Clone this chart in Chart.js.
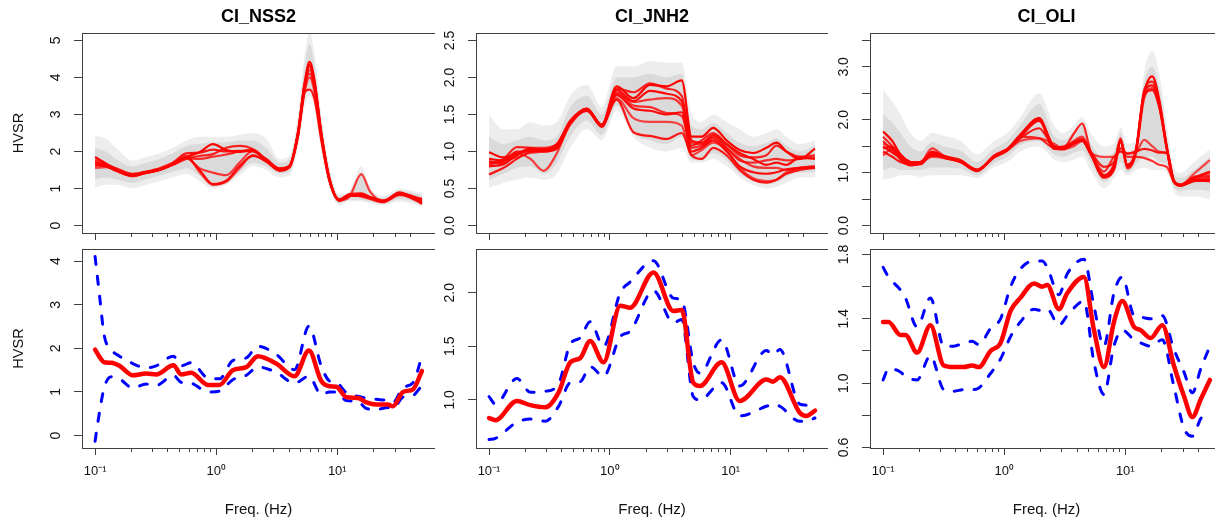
<!DOCTYPE html>
<html>
<head>
<meta charset="utf-8">
<title>HVSR</title>
<script src="https://cdn.jsdelivr.net/npm/chart.js@4.4.1/dist/chart.umd.min.js"></script>
<style>
  html, body { margin: 0; padding: 0; background: #fff; width: 1215px; height: 522px; overflow: hidden; position: relative; }
  canvas { position: absolute; }
</style>
</head>
<body>
<canvas id="nss2Top" width="435" height="245" style="left:0;top:0"></canvas>
<canvas id="jnh2Top" width="388" height="245" style="left:440px;top:0"></canvas>
<canvas id="oliTop" width="389" height="245" style="left:834px;top:0"></canvas>
<canvas id="nss2Bot" width="435" height="282" style="left:0;top:240px"></canvas>
<canvas id="jnh2Bot" width="388" height="282" style="left:440px;top:240px"></canvas>
<canvas id="oliBot" width="389" height="282" style="left:834px;top:240px"></canvas>
<script>
// x axis (frequency, Hz)
const X_TICKS = [0.1, 0.2, 0.3, 0.4, 0.5, 0.6, 0.7, 0.8, 0.9, 1, 2, 3, 4, 5, 6, 7, 8, 9, 10, 20, 30, 40];
const X_DECADES = [0.1, 1, 10];
const X_DECADE_LABELS = ['10\u207B\u00B9', '10\u2070', '10\u00B9'];

// ---- CI_NSS2, individual windows ----
const F_NSS2_TOP = [0.1, 0.123, 0.149, 0.205, 0.264, 0.34, 0.438, 0.565, 0.728, 0.939, 1.21, 1.56, 2.01, 2.59, 3.34, 4.04, 4.73, 5.37, 5.91, 6.5, 7.38, 8.65, 10.4, 12.6, 15.8, 18.5, 23.8, 32.7, 39.6, 50];
const NSS2_L1 = [1.85, 1.68, 1.52, 1.36, 1.42, 1.5, 1.66, 1.85, 1.98, 2.2, 2.04, 1.99, 2.04, 1.78, 1.52, 1.6, 2.5, 3.85, 4.42, 3.9, 2.5, 1.25, 0.68, 0.8, 0.85, 0.77, 0.65, 0.9, 0.8, 0.72];
const NSS2_L2 = [1.78, 1.66, 1.5, 1.34, 1.44, 1.52, 1.64, 1.8, 1.88, 1.93, 2.1, 2.15, 2.06, 1.75, 1.5, 1.62, 2.45, 3.7, 4.3, 3.8, 2.45, 1.22, 0.7, 0.82, 0.82, 0.75, 0.65, 0.88, 0.82, 0.7];
const NSS2_L3 = [1.72, 1.62, 1.48, 1.33, 1.43, 1.5, 1.65, 1.82, 1.55, 1.43, 1.36, 1.7, 2.02, 1.76, 1.52, 1.58, 2.4, 3.6, 4.0, 3.6, 2.4, 1.2, 0.68, 0.78, 1.39, 0.94, 0.66, 0.85, 0.78, 0.65];
const NSS2_L4 = [1.62, 1.6, 1.48, 1.35, 1.42, 1.5, 1.65, 1.85, 1.5, 1.12, 1.21, 1.61, 1.88, 1.74, 1.48, 1.6, 2.5, 3.8, 4.35, 3.85, 2.5, 1.25, 0.67, 0.8, 0.8, 0.74, 0.64, 0.85, 0.76, 0.6];
const NSS2_L5 = [1.55, 1.58, 1.5, 1.38, 1.45, 1.52, 1.66, 1.88, 1.45, 1.1, 1.18, 1.55, 1.9, 1.72, 1.5, 1.58, 2.45, 3.7, 4.2, 3.75, 2.45, 1.2, 0.7, 0.84, 0.78, 0.72, 0.63, 0.82, 0.8, 0.58];
const NSS2_L6 = [1.7, 1.64, 1.55, 1.4, 1.46, 1.55, 1.7, 1.95, 1.97, 2.05, 2.0, 2.02, 2.0, 1.8, 1.55, 1.62, 2.4, 3.6, 3.67, 3.4, 2.3, 1.2, 0.7, 0.85, 0.87, 0.78, 0.68, 0.86, 0.82, 0.68];
const NSS2_L7 = [1.65, 1.62, 1.5, 1.36, 1.44, 1.5, 1.67, 1.82, 1.8, 1.86, 1.92, 2.0, 2.05, 1.76, 1.5, 1.6, 2.5, 3.8, 4.1, 3.7, 2.4, 1.22, 0.68, 0.8, 0.8, 0.75, 0.66, 0.84, 0.8, 0.62];
const NSS2_OUT_HI = [2.42, 2.35, 2.1, 1.75, 1.85, 1.95, 2.1, 2.3, 2.4, 2.4, 2.4, 2.45, 2.5, 2.35, 1.8, 1.9, 3.0, 4.6, 5.25, 4.6, 3.0, 1.6, 0.85, 0.95, 1.6, 1.05, 0.8, 1.0, 0.95, 0.9];
const NSS2_OUT_LO = [1.03, 1.1, 1.1, 1.0, 1.1, 1.2, 1.3, 1.4, 1.2, 1.0, 1.1, 1.35, 1.6, 1.5, 1.3, 1.35, 2.1, 3.2, 3.5, 3.2, 2.0, 1.0, 0.55, 0.65, 0.65, 0.6, 0.55, 0.65, 0.6, 0.5];
const NSS2_IN_HI = [2.1, 2.0, 1.8, 1.6, 1.7, 1.8, 1.95, 2.15, 2.2, 2.25, 2.25, 2.3, 2.3, 2.1, 1.7, 1.8, 2.8, 4.3, 4.9, 4.3, 2.8, 1.45, 0.8, 0.9, 1.4, 0.95, 0.75, 0.95, 0.9, 0.82];
const NSS2_IN_LO = [1.25, 1.3, 1.25, 1.15, 1.25, 1.35, 1.45, 1.55, 1.35, 1.05, 1.15, 1.45, 1.7, 1.6, 1.4, 1.45, 2.25, 3.4, 3.7, 3.4, 2.15, 1.05, 0.6, 0.7, 0.7, 0.65, 0.58, 0.72, 0.68, 0.55];

// ---- CI_JNH2, individual windows ----
const F_JNH2_TOP = [0.1, 0.132, 0.17, 0.22, 0.283, 0.365, 0.47, 0.646, 0.859, 1.14, 1.57, 2.15, 2.96, 3.94, 4.76, 5.76, 7.19, 9.27, 11.9, 15.4, 19.8, 24.0, 29.0, 37.4, 50];
const JNH2_L1 = [0.99, 0.92, 0.97, 1.03, 1.03, 1.1, 1.4, 1.57, 1.36, 1.88, 1.72, 1.9, 1.88, 1.96, 1.2, 1.2, 1.32, 1.15, 1.02, 0.98, 1.05, 1.12, 1.0, 0.9, 1.04];
const JNH2_L2 = [0.85, 0.9, 1.06, 1.05, 1.0, 1.08, 1.4, 1.58, 1.35, 1.85, 1.8, 1.92, 1.85, 1.75, 1.08, 1.15, 1.25, 1.1, 0.95, 0.92, 0.95, 1.08, 1.0, 0.93, 0.95];
const JNH2_L3 = [0.87, 0.84, 0.98, 0.9, 0.74, 0.98, 1.38, 1.57, 1.33, 1.78, 1.67, 1.7, 1.72, 1.62, 1.12, 1.1, 1.2, 1.05, 0.9, 0.8, 0.78, 0.78, 0.75, 0.78, 0.8];
const JNH2_L4 = [0.8, 0.83, 0.95, 1.02, 1.02, 1.06, 1.38, 1.55, 1.34, 1.76, 1.58, 1.55, 1.5, 1.53, 1.0, 1.05, 1.15, 1.0, 0.8, 0.72, 0.7, 0.72, 0.76, 0.78, 0.78];
const JNH2_L5 = [0.82, 0.88, 0.92, 0.98, 1.0, 1.05, 1.36, 1.56, 1.35, 1.72, 1.45, 1.4, 1.4, 1.35, 0.95, 1.02, 1.12, 1.02, 0.78, 0.64, 0.6, 0.62, 0.72, 0.78, 0.8];
const JNH2_L6 = [0.69, 0.78, 0.9, 1.0, 1.02, 1.08, 1.4, 1.58, 1.36, 1.7, 1.26, 1.21, 1.17, 1.25, 0.95, 0.9, 1.05, 0.95, 0.75, 0.62, 0.58, 0.62, 0.7, 0.75, 0.78];
const JNH2_L7 = [0.84, 0.86, 0.95, 1.05, 1.05, 1.1, 1.42, 1.56, 1.36, 1.8, 1.62, 1.6, 1.52, 1.48, 1.05, 1.08, 1.18, 1.05, 0.88, 0.85, 0.88, 0.9, 0.88, 0.9, 0.92];
const JNH2_L8 = [0.9, 0.88, 1.0, 1.0, 1.0, 1.04, 1.4, 1.57, 1.36, 1.83, 1.68, 1.82, 1.78, 1.68, 1.15, 1.12, 1.22, 1.1, 0.98, 0.9, 0.82, 0.85, 0.82, 0.92, 0.9];
const JNH2_OUT_HI = [1.49, 1.3, 1.3, 1.4, 1.35, 1.4, 1.75, 1.9, 1.6, 2.15, 2.15, 2.22, 2.2, 2.2, 1.5, 1.4, 1.5, 1.4, 1.3, 1.2, 1.25, 1.3, 1.2, 1.1, 1.15];
const JNH2_OUT_LO = [0.51, 0.58, 0.62, 0.65, 0.62, 0.7, 1.05, 1.3, 1.15, 1.55, 1.2, 1.05, 1.0, 1.05, 0.85, 0.85, 0.9, 0.8, 0.65, 0.55, 0.5, 0.52, 0.58, 0.65, 0.65];
const JNH2_IN_HI = [1.2, 1.1, 1.15, 1.2, 1.15, 1.2, 1.6, 1.75, 1.5, 2.0, 2.0, 2.05, 2.0, 2.05, 1.35, 1.3, 1.38, 1.25, 1.12, 1.07, 1.12, 1.18, 1.08, 1.0, 1.08];
const JNH2_IN_LO = [0.62, 0.7, 0.78, 0.8, 0.7, 0.85, 1.2, 1.42, 1.22, 1.62, 1.25, 1.15, 1.1, 1.2, 0.9, 0.88, 0.98, 0.88, 0.7, 0.6, 0.56, 0.58, 0.66, 0.72, 0.72];

// ---- CI_OLI, individual windows ----
const F_OLI_TOP = [0.1, 0.119, 0.139, 0.168, 0.204, 0.254, 0.317, 0.436, 0.598, 0.822, 1.06, 1.36, 1.94, 2.57, 3.11, 3.76, 4.41, 5.17, 6.66, 8.06, 9.15, 10.4, 12.2, 14.3, 16.7, 19.0, 22.2, 25.2, 28.7, 36.9, 50];
const OLI_L1 = [1.78, 1.6, 1.35, 1.2, 1.17, 1.38, 1.3, 1.22, 1.05, 1.3, 1.43, 1.72, 2.03, 1.5, 1.46, 1.55, 1.62, 1.36, 0.95, 1.1, 1.6, 1.15, 1.4, 2.5, 2.82, 2.4, 1.43, 0.83, 0.76, 0.85, 0.88];
const OLI_L2 = [1.68, 1.5, 1.3, 1.18, 1.2, 1.33, 1.3, 1.24, 1.05, 1.28, 1.42, 1.7, 2.0, 1.48, 1.48, 1.74, 1.93, 1.4, 0.92, 1.12, 1.65, 1.1, 1.38, 2.55, 2.72, 2.35, 1.45, 0.85, 0.77, 0.88, 0.92];
const OLI_L3 = [1.55, 1.46, 1.25, 1.14, 1.18, 1.46, 1.32, 1.22, 1.04, 1.3, 1.44, 1.7, 2.02, 1.45, 1.46, 1.6, 1.68, 1.38, 0.9, 1.08, 1.62, 1.08, 1.35, 2.4, 2.6, 2.3, 1.4, 0.82, 0.75, 0.9, 1.0];
const OLI_L4 = [1.46, 1.49, 1.3, 1.15, 1.16, 1.35, 1.28, 1.2, 1.03, 1.32, 1.45, 1.68, 1.98, 1.5, 1.45, 1.55, 1.6, 1.35, 0.95, 1.15, 1.6, 1.15, 1.4, 2.45, 2.56, 2.25, 1.42, 0.84, 0.76, 0.84, 0.86];
const OLI_L5 = [1.33, 1.45, 1.25, 1.14, 1.18, 1.3, 1.28, 1.2, 1.04, 1.3, 1.42, 1.6, 1.65, 1.55, 1.45, 1.5, 1.6, 1.38, 1.3, 1.3, 1.4, 1.36, 1.38, 1.62, 1.5, 1.4, 1.36, 0.85, 0.77, 0.98, 1.24];
const OLI_L6 = [1.4, 1.3, 1.2, 1.16, 1.2, 1.32, 1.3, 1.22, 1.05, 1.3, 1.44, 1.65, 1.84, 1.5, 1.48, 1.55, 1.62, 1.4, 1.11, 1.2, 1.46, 1.36, 1.4, 1.45, 1.42, 1.38, 1.38, 0.84, 0.76, 0.9, 1.02];
const OLI_L7 = [1.6, 1.42, 1.28, 1.18, 1.2, 1.36, 1.3, 1.21, 1.05, 1.3, 1.43, 1.68, 1.65, 1.48, 1.5, 1.58, 1.64, 1.38, 1.02, 1.3, 1.4, 1.3, 1.3, 1.28, 1.22, 1.15, 1.1, 0.83, 0.78, 0.92, 0.95];
const OLI_L8 = [1.5, 1.38, 1.28, 1.2, 1.2, 1.4, 1.32, 1.22, 1.06, 1.3, 1.42, 1.7, 2.0, 1.46, 1.44, 1.56, 1.62, 1.37, 0.92, 1.05, 1.58, 1.12, 1.42, 2.5, 2.65, 2.3, 1.4, 0.83, 0.76, 0.85, 0.84];
const OLI_OUT_HI = [2.56, 2.35, 2.1, 1.75, 1.6, 1.75, 1.7, 1.6, 1.35, 1.6, 1.75, 2.05, 2.5, 1.9, 1.75, 1.9, 2.05, 1.75, 1.5, 1.55, 1.85, 1.55, 1.6, 2.9, 3.3, 2.9, 1.85, 1.1, 1.0, 1.2, 1.45];
const OLI_OUT_LO = [0.86, 0.9, 0.95, 0.95, 0.92, 0.95, 0.95, 0.95, 0.9, 1.1, 1.2, 1.4, 1.5, 1.25, 1.2, 1.25, 1.3, 1.05, 0.7, 0.9, 1.05, 0.95, 1.05, 1.1, 1.05, 1.05, 1.0, 0.65, 0.55, 0.55, 0.5];
const OLI_IN_HI = [2.1, 1.95, 1.75, 1.5, 1.4, 1.58, 1.5, 1.42, 1.2, 1.45, 1.6, 1.9, 2.3, 1.7, 1.62, 1.75, 1.9, 1.55, 1.3, 1.4, 1.75, 1.4, 1.5, 2.7, 3.0, 2.65, 1.65, 0.98, 0.9, 1.05, 1.3];
const OLI_IN_LO = [1.05, 1.1, 1.05, 1.05, 1.05, 1.1, 1.1, 1.08, 0.95, 1.18, 1.3, 1.52, 1.6, 1.35, 1.3, 1.38, 1.42, 1.2, 0.82, 1.0, 1.2, 1.0, 1.15, 1.3, 1.3, 1.2, 1.15, 0.72, 0.66, 0.68, 0.65];

// ---- mean curves and +/- one standard deviation ----
const F_NSS2_BOT = [0.1, 0.109, 0.119, 0.136, 0.159, 0.205, 0.264, 0.319, 0.444, 0.514, 0.621, 0.853, 1.065, 1.37, 1.77, 2.21, 3.13, 4.44, 5.83, 7.38, 8.65, 9.81, 11.9, 14.8, 17.4, 21.0, 26.2, 28.8, 34.9, 42.2, 50];
const NSS2_MEAN = [1.97, 1.8, 1.68, 1.67, 1.6, 1.38, 1.42, 1.4, 1.61, 1.4, 1.44, 1.16, 1.16, 1.5, 1.57, 1.82, 1.65, 1.36, 1.95, 1.25, 1.13, 1.12, 0.88, 0.86, 0.76, 0.71, 0.71, 0.67, 1.0, 1.06, 1.48];
const NSS2_UPPER = [4.11, 3.2, 2.3, 1.97, 1.82, 1.65, 1.55, 1.6, 1.82, 1.6, 1.67, 1.32, 1.3, 1.72, 1.78, 2.05, 1.86, 1.51, 2.51, 1.59, 1.25, 1.22, 0.98, 0.9, 0.86, 0.83, 0.8, 0.75, 1.1, 1.21, 1.82];
const NSS2_LOWER = [-0.13, 0.55, 1.1, 1.35, 1.3, 1.09, 1.18, 1.15, 1.38, 1.22, 1.2, 1.0, 1.02, 1.28, 1.38, 1.57, 1.45, 1.2, 1.36, 0.94, 1.0, 1.0, 0.8, 0.78, 0.62, 0.6, 0.64, 0.62, 0.88, 0.92, 1.15];

const F_JNH2_BOT = [0.1, 0.113, 0.17, 0.22, 0.292, 0.377, 0.47, 0.569, 0.688, 0.887, 1.22, 1.47, 2.3, 3.36, 3.94, 4.91, 5.58, 8.43, 11.9, 19.8, 22.5, 25.6, 37.4, 42.5, 50];
const JNH2_MEAN = [0.83, 0.81, 0.99, 0.95, 0.93, 1.07, 1.35, 1.39, 1.55, 1.35, 1.88, 1.86, 2.19, 1.83, 1.84, 1.16, 1.13, 1.35, 0.99, 1.19, 1.17, 1.21, 0.88, 0.85, 0.9];
const JNH2_UPPER = [1.03, 0.96, 1.2, 1.07, 1.08, 1.15, 1.52, 1.58, 1.73, 1.5, 2.0, 2.1, 2.3, 1.95, 1.93, 1.35, 1.25, 1.56, 1.13, 1.46, 1.42, 1.47, 0.96, 0.95, 0.92];
const JNH2_LOWER = [0.63, 0.64, 0.79, 0.82, 0.8, 0.94, 1.16, 1.17, 1.31, 1.22, 1.59, 1.64, 2.02, 1.72, 1.75, 1.03, 1.0, 1.16, 0.85, 0.94, 0.96, 0.94, 0.8, 0.8, 0.83];

const F_OLI_BOT = [0.1, 0.111, 0.139, 0.153, 0.191, 0.246, 0.317, 0.384, 0.464, 0.544, 0.618, 0.771, 0.933, 1.13, 1.36, 1.76, 2.06, 2.27, 2.83, 3.32, 4.55, 5.51, 6.66, 8.06, 9.45, 11.8, 13.4, 16.2, 20.2, 25.2, 30.5, 35.8, 42.0, 50];
const OLI_MEAN = [1.38, 1.38, 1.3, 1.3, 1.19, 1.36, 1.11, 1.1, 1.1, 1.11, 1.1, 1.2, 1.25, 1.45, 1.53, 1.62, 1.6, 1.61, 1.46, 1.56, 1.66, 1.33, 1.1, 1.38, 1.51, 1.35, 1.33, 1.28, 1.36, 1.11, 0.92, 0.79, 0.9, 1.02];
const OLI_UPPER = [1.72, 1.66, 1.58, 1.53, 1.35, 1.53, 1.23, 1.23, 1.25, 1.26, 1.24, 1.34, 1.4, 1.6, 1.71, 1.76, 1.76, 1.72, 1.55, 1.68, 1.77, 1.48, 1.23, 1.56, 1.66, 1.42, 1.41, 1.4, 1.42, 1.21, 1.07, 0.94, 1.09, 1.23];
const OLI_LOWER = [1.02, 1.09, 1.07, 1.04, 1.02, 1.17, 0.96, 0.95, 0.96, 0.96, 0.97, 1.06, 1.15, 1.29, 1.38, 1.46, 1.45, 1.46, 1.36, 1.42, 1.51, 1.13, 0.93, 1.23, 1.33, 1.27, 1.25, 1.23, 1.27, 0.98, 0.72, 0.67, 0.78, 0.83];

// y ticks per panel, and the ones that carry a label
const Y_TICKS_NSS2_TOP = [0, 1, 2, 3, 4, 5];
const Y_TICKS_JNH2_TOP = [0, 0.5, 1, 1.5, 2, 2.5];
const Y_TICKS_OLI_TOP = [0, 0.5, 1, 1.5, 2, 2.5, 3, 3.5];
const Y_LABELS_OLI_TOP = [0, 1, 2, 3];
const Y_TICKS_NSS2_BOT = [0, 1, 2, 3, 4];
const Y_TICKS_JNH2_BOT = [1, 1.5, 2];
const Y_TICKS_OLI_BOT = [0.6, 0.8, 1, 1.2, 1.4, 1.6, 1.8];
const Y_LABELS_OLI_BOT = [0.6, 1, 1.4, 1.8];

const FONT = '"Liberation Sans", Arial, Helvetica, sans-serif';
const AXIS = '#404040';
const TXT = '#111';
const Y_FONT = 14;
const X_FONT = 13;
const RED_ALPHA = [1, 0.85, 0.75, 0.95, 0.7, 0.9, 0.8, 0.95];

const near = (a, b) => Math.abs(a - b) < 1e-6;
const pts = (f, v) => f.map((x, i) => ({x: x, y: v[i]}));

const measureCtx = document.createElement('canvas').getContext('2d');
function widest(labels) {
  measureCtx.font = Y_FONT + 'px ' + FONT;
  return Math.max(0, ...labels.map(t => measureCtx.measureText(t).width));
}

// R-style box round the plot region
const frame = {
  id: 'frame',
  afterDatasetsDraw(chart) {
    const a = chart.chartArea, c = chart.ctx;
    c.save();
    c.strokeStyle = AXIS;
    c.lineWidth = 1;
    c.strokeRect(Math.round(a.left) + 0.5, Math.round(a.top) + 0.5, Math.round(a.right - a.left), Math.round(a.bottom - a.top));
    c.restore();
  }
};

function band(f, hi, lo, color) {
  const none = 'rgba(0,0,0,0)';
  return [
    {data: pts(f, hi), fill: '+1', backgroundColor: color, borderColor: none, borderWidth: 0, pointRadius: 0, cubicInterpolationMode: 'monotone'},
    {data: pts(f, lo), fill: false, borderColor: none, borderWidth: 0, pointRadius: 0, cubicInterpolationMode: 'monotone'}
  ];
}

function windowSets(f, lines, outHi, outLo, inHi, inLo) {
  const sets = lines.map((v, i) => ({
    data: pts(f, v),
    borderColor: 'rgba(255,0,0,' + RED_ALPHA[i % RED_ALPHA.length] + ')',
    borderWidth: 2.2, pointRadius: 0, fill: false, cubicInterpolationMode: 'monotone'
  }));
  return sets.concat(band(f, inHi, inLo, 'rgba(190,190,190,0.4)'), band(f, outHi, outLo, 'rgba(210,210,210,0.4)'));
}

function meanSets(f, mean, upper, lower) {
  const dash = {borderColor: '#0000ff', borderWidth: 3, borderDash: [8, 12], borderCapStyle: 'round', pointRadius: 0, fill: false, cubicInterpolationMode: 'monotone'};
  return [
    {data: pts(f, mean), borderColor: '#ff0000', borderWidth: 4.5, borderCapStyle: 'round', borderJoinStyle: 'round', pointRadius: 0, fill: false, cubicInterpolationMode: 'monotone'},
    Object.assign({data: pts(f, upper)}, dash),
    Object.assign({data: pts(f, lower)}, dash)
  ];
}

function makeChart(id, p) {
  const labeled = p.yLabels || p.yTicks;
  const yPad = 17.5 - widest(labeled.map(v => v.toFixed(p.dec))) / 2;
  new Chart(document.getElementById(id), {
    type: 'line',
    data: {datasets: p.datasets},
    options: {
      responsive: false,
      animation: false,
      events: [],
      layout: {padding: {top: p.padTop, left: 0, right: 0, bottom: 0}},
      plugins: {
        legend: {display: false},
        tooltip: {enabled: false},
        filler: {drawTime: 'beforeDatasetsDraw'},
        title: {
          display: !!p.title, text: p.title || '', fullSize: false, color: '#000',
          font: {family: FONT, size: 18, weight: 'bold'}, padding: {top: 6, bottom: 5.4}
        }
      },
      scales: {
        x: {
          type: 'logarithmic', min: 0.078, max: 64.1, bounds: 'data',
          afterBuildTicks: s => { s.ticks = X_TICKS.map(v => ({value: v})); },
          afterFit: s => { s.height = p.xHeight; s.paddingLeft = 0; s.paddingRight = 0; s.paddingTop = 0; s.paddingBottom = 0; },
          grid: {
            drawOnChartArea: false, drawTicks: true, tickLength: 7, tickColor: AXIS, tickWidth: 1,
            tickBorderDash: c => (c.tick && X_DECADES.some(d => near(d, c.tick.value))) ? [] : [4, 10]
          },
          border: {display: false},
          ticks: {
            autoSkip: false, maxRotation: 0, minRotation: 0, padding: 9, color: TXT,
            font: {family: FONT, size: X_FONT},
            callback: v => {
              if (!p.xLabels) return '';
              const i = X_DECADES.findIndex(d => near(d, v));
              return i >= 0 ? X_DECADE_LABELS[i] : '';
            }
          },
          title: {display: p.xLabels, text: 'Freq. (Hz)', color: TXT, font: {family: FONT, size: 15}, padding: {top: 0, bottom: 3}}
        },
        y: {
          type: 'linear', min: p.yMin, max: p.yMax, bounds: 'data',
          afterBuildTicks: s => { s.ticks = p.yTicks.map(v => ({value: v})); },
          afterFit: s => { s.width = p.yWidth; s.paddingTop = 0; s.paddingBottom = 0; s.paddingLeft = 0; s.paddingRight = 0; },
          grid: {drawOnChartArea: false, drawTicks: true, tickLength: 8, tickColor: AXIS, tickWidth: 1},
          border: {display: false},
          ticks: {
            autoSkip: false, minRotation: 90, maxRotation: 90, crossAlign: 'center', padding: yPad, color: TXT,
            font: {family: FONT, size: Y_FONT},
            callback: v => labeled.some(l => near(l, v)) ? v.toFixed(p.dec) : ''
          },
          title: {display: !!p.yTitle, text: 'HVSR', color: TXT, font: {family: FONT, size: 14.5}, padding: {top: 10, bottom: 0}}
        }
      }
    },
    plugins: [frame]
  });
}

const TOP = {padTop: 0, xHeight: 12, xLabels: false};
const BOT = {padTop: 9, xHeight: 74, xLabels: true};

makeChart('nss2Top', Object.assign({}, TOP, {
  title: 'CI_NSS2', yTitle: true, yWidth: 82, yMin: -0.2, yMax: 5.2, yTicks: Y_TICKS_NSS2_TOP, dec: 0,
  datasets: windowSets(F_NSS2_TOP, [NSS2_L1, NSS2_L2, NSS2_L3, NSS2_L4, NSS2_L5, NSS2_L6, NSS2_L7], NSS2_OUT_HI, NSS2_OUT_LO, NSS2_IN_HI, NSS2_IN_LO)
}));
makeChart('jnh2Top', Object.assign({}, TOP, {
  title: 'CI_JNH2', yTitle: false, yWidth: 36, yMin: -0.1, yMax: 2.6, yTicks: Y_TICKS_JNH2_TOP, dec: 1,
  datasets: windowSets(F_JNH2_TOP, [JNH2_L1, JNH2_L2, JNH2_L3, JNH2_L4, JNH2_L5, JNH2_L6, JNH2_L7, JNH2_L8], JNH2_OUT_HI, JNH2_OUT_LO, JNH2_IN_HI, JNH2_IN_LO)
}));
makeChart('oliTop', Object.assign({}, TOP, {
  title: 'CI_OLI', yTitle: false, yWidth: 36, yMin: -0.14, yMax: 3.64, yTicks: Y_TICKS_OLI_TOP, yLabels: Y_LABELS_OLI_TOP, dec: 1,
  datasets: windowSets(F_OLI_TOP, [OLI_L1, OLI_L2, OLI_L3, OLI_L4, OLI_L5, OLI_L6, OLI_L7, OLI_L8], OLI_OUT_HI, OLI_OUT_LO, OLI_IN_HI, OLI_IN_LO)
}));
makeChart('nss2Bot', Object.assign({}, BOT, {
  yTitle: true, yWidth: 82, yMin: -0.287, yMax: 4.28, yTicks: Y_TICKS_NSS2_BOT, dec: 0,
  datasets: meanSets(F_NSS2_BOT, NSS2_MEAN, NSS2_UPPER, NSS2_LOWER)
}));
makeChart('jnh2Bot', Object.assign({}, BOT, {
  yTitle: false, yWidth: 36, yMin: 0.55, yMax: 2.409, yTicks: Y_TICKS_JNH2_BOT, dec: 1,
  datasets: meanSets(F_JNH2_BOT, JNH2_MEAN, JNH2_UPPER, JNH2_LOWER)
}));
makeChart('oliBot', Object.assign({}, BOT, {
  yTitle: false, yWidth: 36, yMin: 0.597, yMax: 1.834, yTicks: Y_TICKS_OLI_BOT, yLabels: Y_LABELS_OLI_BOT, dec: 1,
  datasets: meanSets(F_OLI_BOT, OLI_MEAN, OLI_UPPER, OLI_LOWER)
}));
</script>
</body>
</html>
